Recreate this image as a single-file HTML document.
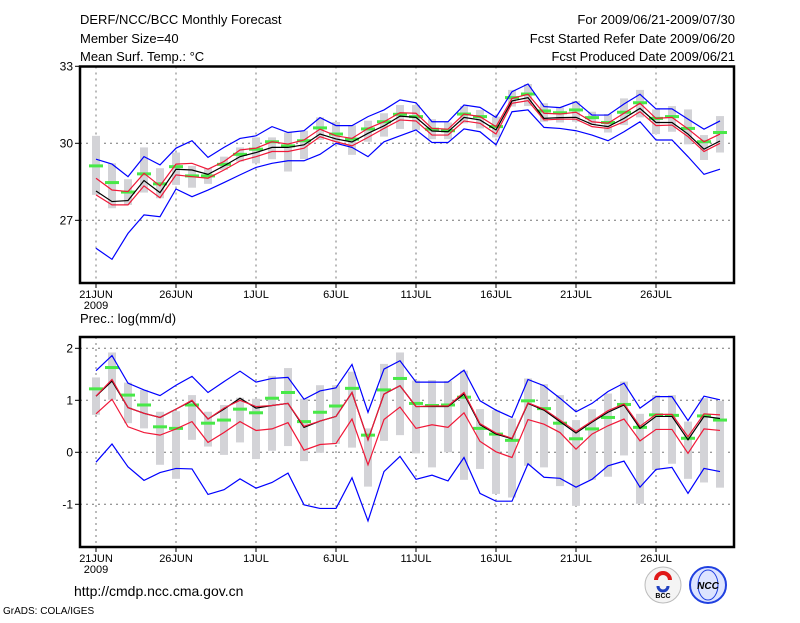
<!DOCTYPE html>
<html><head><meta charset="utf-8"><style>
body{margin:0;background:#fff;}
svg text{font-family:"Liberation Sans",sans-serif;fill:#000;}
</style></head><body>
<svg id="chart" width="800" height="618" viewBox="0 0 800 618" xmlns="http://www.w3.org/2000/svg">
<rect width="800" height="618" fill="#fff"/>
<g font-size="13">
<text x="80" y="24">DERF/NCC/BCC Monthly Forecast</text>
<text x="80" y="43">Member Size=40</text>
<text x="80" y="61">Mean Surf. Temp.: °C</text>
<text x="735" y="24" text-anchor="end">For 2009/06/21-2009/07/30</text>
<text x="735" y="43" text-anchor="end">Fcst Started Refer Date 2009/06/20</text>
<text x="735" y="61" text-anchor="end">Fcst Produced Date 2009/06/21</text>
<text x="80" y="323">Prec.: log(mm/d)</text>
<text x="74" y="596" font-size="14">http://cmdp.ncc.cma.gov.cn</text>
<text x="3" y="614" font-size="10">GrADS: COLA/IGES</text>
</g>
<g>
<circle cx="663" cy="585" r="18" fill="#f4f4f4" stroke="#bbb"/>
<path d="M656 580 a7 7 0 1 1 14 0" fill="none" stroke="#e01818" stroke-width="4"/>
<path d="M658 586 a5 5 0 1 0 10 0" fill="none" stroke="#2040c0" stroke-width="3"/>
<text x="663" y="598" font-size="7" text-anchor="middle" font-weight="bold">BCC</text>
<circle cx="708" cy="585" r="18" fill="#dde4ff" stroke="#2040e0" stroke-width="2"/>
<ellipse cx="708" cy="585" rx="10" ry="15" fill="none" stroke="#2040e0"/>
<text x="708" y="589" font-size="10" text-anchor="middle" fill="#1030d0" font-weight="bold" font-style="italic">NCC</text>
</g>
<g id="top"></g>
<g id="bot"></g>
</svg>
<script>
const days=["21JUN","26JUN","1JUL","6JUL","11JUL","16JUL","21JUL","26JUL"];
const tGrayHi=[30.29,29.22,28.60,29.84,29.03,29.64,29.12,29.03,29.48,29.84,30.23,30.23,30.42,30.49,31.01,30.83,30.70,30.88,31.17,31.49,31.49,30.94,30.81,31.45,31.30,31.04,32.08,32.31,31.56,31.40,31.65,31.23,31.14,31.75,32.08,31.32,31.45,31.32,30.32,31.06];
const tGrayLo=[27.99,27.47,27.60,28.08,27.86,28.38,28.27,28.42,28.96,29.29,29.22,29.38,28.90,29.39,30.13,30.06,29.55,30.06,30.26,30.56,30.52,30.16,30.16,30.78,30.58,30.23,31.43,31.45,30.84,30.81,30.84,30.71,30.42,30.71,31.01,30.36,30.45,29.96,29.35,29.64];
const tGreen=[29.12,28.47,28.10,28.81,28.42,29.09,28.73,28.73,29.18,29.57,29.77,30.06,29.90,30.10,30.60,30.36,30.16,30.56,30.84,31.13,31.04,30.55,30.49,31.14,31.04,30.65,31.78,31.92,31.26,31.19,31.30,31.00,30.81,31.21,31.58,30.97,31.04,30.58,30.06,30.42];
const tMean=[28.14,27.73,27.77,28.55,28.08,28.99,28.96,28.79,29.12,29.48,29.64,29.84,29.84,29.94,30.36,30.17,30.05,30.39,30.68,31.06,31.01,30.48,30.45,31.01,30.91,30.52,31.65,31.78,30.97,31.00,31.01,30.74,30.65,30.97,31.36,30.81,30.81,30.36,29.77,30.09];
const tRedHi=[28.64,28.18,28.12,28.83,28.34,29.19,29.22,28.99,29.29,29.74,29.81,30.06,29.97,30.13,30.55,30.29,30.19,30.58,30.84,31.19,31.17,30.58,30.55,31.14,31.04,30.65,31.75,31.91,31.17,31.14,31.21,30.84,30.78,31.17,31.56,30.97,31.01,30.56,30.06,30.36];
const tRedLo=[27.99,27.60,27.60,28.34,27.88,28.77,28.70,28.64,28.96,29.31,29.48,29.68,29.68,29.81,30.26,30.06,29.90,30.23,30.58,30.91,30.87,30.32,30.32,30.87,30.78,30.36,31.56,31.66,30.91,30.94,30.94,30.65,30.58,30.84,31.23,30.69,30.71,30.26,29.68,30.00];
const tBlueHi=[29.38,29.19,28.70,29.48,29.16,29.81,30.10,29.45,29.84,30.19,30.29,30.65,30.42,30.49,31.00,30.69,30.69,31.04,31.30,31.69,31.58,30.84,30.84,31.49,31.40,31.01,32.01,32.31,31.43,31.39,31.62,31.10,31.10,31.53,31.91,31.34,31.34,30.94,30.55,30.87];
const tBlueLo=[25.91,25.48,26.49,27.21,27.14,28.22,27.92,28.18,28.47,28.77,29.06,29.22,29.32,29.32,29.57,30.00,29.84,29.48,30.06,30.29,30.52,30.03,30.03,30.56,30.45,29.94,31.23,31.30,30.62,30.58,30.49,30.32,30.10,30.45,30.84,30.13,30.13,29.48,28.79,28.99];
const tTicks=[33,30,27];
const pGrayHi=[1.44,1.92,1.34,1.20,0.78,0.79,1.10,0.78,0.91,1.05,1.03,1.47,1.62,1.03,1.29,1.29,1.55,0.46,1.70,1.92,1.38,1.39,1.37,1.57,0.83,0.81,0.65,1.42,1.31,1.10,0.62,0.83,1.13,1.36,0.74,1.10,1.10,0.59,1.04,0.99];
const pGrayLo=[0.72,1.01,0.56,0.46,-0.24,-0.51,0.24,0.11,-0.05,0.19,-0.13,0.03,0.12,-0.17,-0.01,0.16,0.09,-0.66,0.22,0.33,-0.02,-0.29,0.00,-0.53,-0.32,-0.80,-0.87,-0.26,-0.29,-0.65,-1.03,-0.53,-0.47,-0.06,-0.99,-0.34,-0.22,-0.51,-0.58,-0.68];
const pGreen=[1.22,1.63,1.10,0.91,0.49,0.46,0.91,0.56,0.62,0.83,0.76,1.04,1.15,0.59,0.77,0.89,1.23,0.33,1.20,1.42,0.94,0.90,0.91,1.06,0.46,0.35,0.23,0.99,0.84,0.56,0.26,0.45,0.67,0.92,0.48,0.72,0.71,0.27,0.70,0.62];
const pMean=[1.08,1.37,0.86,0.75,0.67,0.83,0.99,0.64,0.83,1.04,0.85,0.90,0.94,0.48,0.60,0.69,1.15,0.24,1.12,1.28,0.88,0.88,0.88,1.12,0.53,0.35,0.26,0.94,0.81,0.59,0.37,0.58,0.77,0.91,0.46,0.69,0.69,0.24,0.69,0.65];
const pRedHi=[1.08,1.40,0.86,0.75,0.67,0.83,1.00,0.64,0.85,1.00,0.88,0.90,0.94,0.50,0.60,0.69,1.15,0.24,1.12,1.28,0.88,0.89,0.89,1.15,0.55,0.37,0.27,0.95,0.83,0.62,0.40,0.60,0.80,0.93,0.50,0.73,0.73,0.30,0.74,0.72];
const pRedLo=[0.74,1.02,0.49,0.38,0.33,0.45,0.59,0.19,0.38,0.59,0.42,0.45,0.57,0.04,0.15,0.17,0.64,-0.24,0.63,0.87,0.46,0.53,0.48,0.76,0.21,0.01,-0.10,0.63,0.54,0.38,0.06,0.35,0.51,0.64,0.22,0.44,0.44,-0.02,0.45,0.42];
const pBlueHi=[1.57,1.86,1.33,1.20,1.09,1.29,1.46,1.15,1.36,1.56,1.35,1.42,1.44,1.02,1.18,1.24,1.69,0.77,1.60,1.76,1.35,1.35,1.35,1.58,0.99,0.81,0.67,1.40,1.28,1.04,0.78,0.94,1.17,1.33,0.85,1.07,1.07,0.61,1.08,1.01];
const pBlueLo=[-0.19,0.16,-0.28,-0.54,-0.39,-0.31,-0.32,-0.81,-0.72,-0.51,-0.69,-0.58,-0.40,-1.01,-1.08,-1.08,-0.49,-1.32,-0.37,-0.08,-0.52,-0.44,-0.55,-0.10,-0.79,-0.94,-0.94,-0.22,-0.48,-0.50,-0.67,-0.52,-0.26,-0.17,-0.67,-0.33,-0.29,-0.79,-0.31,-0.37];
const pTicks=[2,1,0,-1];

const NS="http://www.w3.org/2000/svg";
function mk(parent,tag,attrs){const e=document.createElementNS(NS,tag);for(const k in attrs)e.setAttribute(k,attrs[k]);parent.appendChild(e);return e;}
const xS=d=>96+16*d;
function panel(g,top,bottom,yS,ticks,grayHi,grayLo,green,mean,redHi,redLo,blueHi,blueLo,pfx){
  const L=80,R=734;
  // grid
  ticks.forEach(t=>{const y=yS(t);
    const gl=mk(g,'line',{x1:L,x2:R,y1:y,y2:y,stroke:'#777','stroke-dasharray':'2,4','stroke-width':1});
    
    
    mk(g,'line',{x1:L-5,x2:L,y1:y,y2:y,stroke:'#000'});
    const tx=mk(g,'text',{x:L-7,y:y+4,'text-anchor':'end','font-size':12});
    tx.textContent=String(t).replace('-','−').replace('−','-');
    
    
  });
  days.forEach((d,i)=>{const x=xS(i*5);
    const gl=mk(g,'line',{x1:x,x2:x,y1:top,y2:bottom,stroke:'#777','stroke-dasharray':'2,4'});
    
    
    mk(g,'line',{x1:x,x2:x,y1:bottom,y2:bottom+5,stroke:'#000'});
    const tx=mk(g,'text',{x:x,y:bottom+15,'text-anchor':'middle','font-size':11});
    tx.textContent=d;
    
    
  });
  const yr=mk(g,'text',{x:xS(0),y:bottom+26,'text-anchor':'middle','font-size':11});
  yr.textContent='2009';
  
  
  grayHi.forEach((v,i)=>{const y1=yS(v),y2=yS(grayLo[i]);
    const r=mk(g,'rect',{x:xS(i)-4,y:y1,width:8,height:y2-y1,fill:'#d3d3d7'});
    
    
  });
  green.forEach((v,i)=>{
    const r=mk(g,'rect',{x:xS(i)-7,y:yS(v)-1.5,width:14,height:3,fill:'#48e848'});
    
    
  });
  const line=(arr,col,name)=>{const p=mk(g,'polyline',{points:arr.map((v,i)=>xS(i)+','+yS(v)).join(' '),fill:'none',stroke:col,'stroke-width':1.2});
    
    };
  line(blueHi,'#0000ff',pfx+'-blue-upper-line');
  line(blueLo,'#0000ff',pfx+'-blue-lower-line');
  line(redLo,'#f01838',pfx+'-red-lower-line');
  line(mean,'#000',pfx+'-mean-line');
  line(redHi,'#f01838',pfx+'-red-upper-line');
  const fr=mk(g,'rect',{x:L,y:top,width:R-L,height:bottom-top,fill:'none',stroke:'#000','stroke-width':2.5});
  
  
}
const gt=document.getElementById('top');


const gb=document.getElementById('bot');


panel(gt,66.5,283,v=>143.3-(v-30)*25.67,tTicks,tGrayHi,tGrayLo,tGreen,tMean,tRedHi,tRedLo,tBlueHi,tBlueLo,'temp');
panel(gb,337,547,v=>400.3-(v-1)*52,pTicks,pGrayHi,pGrayLo,pGreen,pMean,pRedHi,pRedLo,pBlueHi,pBlueLo,'prec');
</script>
</body></html>
